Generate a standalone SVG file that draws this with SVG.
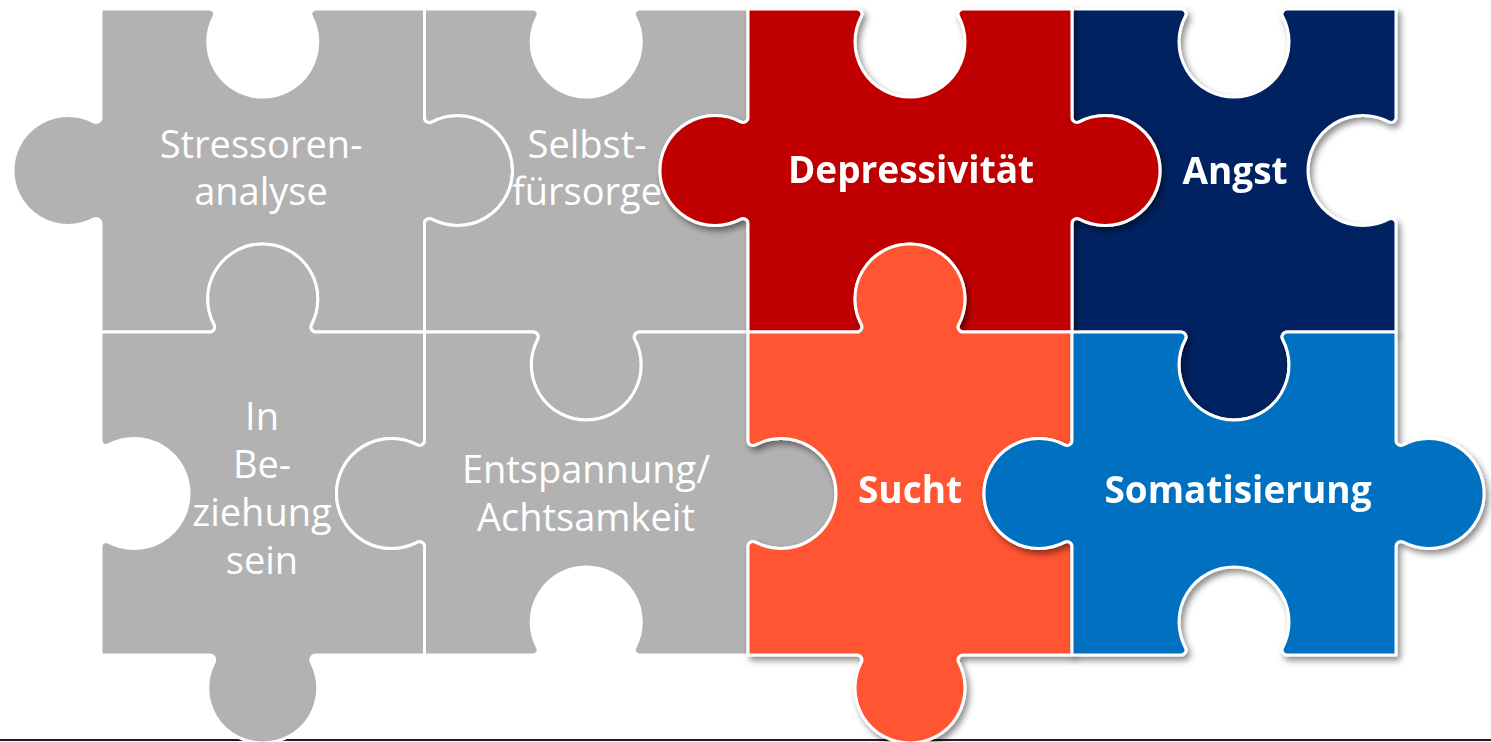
<svg xmlns="http://www.w3.org/2000/svg" width="1491" height="742" viewBox="0 0 1491 742">
  <defs>
    <filter id="drop" x="-10%" y="-10%" width="125%" height="125%">
      <feDropShadow dx="3" dy="4" stdDeviation="3" flood-color="#000" flood-opacity="0.45"/>
    </filter>
    <style>
      .piece { stroke: #fff; stroke-width: 3; stroke-linejoin: round; }
      .grey { fill: #b2b2b2; }
      .red { fill: #c00000; }
      .navy { fill: #002060; }
      .orange { fill: #ff5431; }
      .blue { fill: #0070c0; }
      .raised { filter: url(#drop); }
      .lbl { font-family: "Open Sans", "Liberation Sans", sans-serif; font-size: 38px; fill: #fff; text-anchor: middle; }
      .strong { font-weight: bold; font-size: 37px; }
    </style>
  </defs>

  <rect x="0" y="0" width="1491" height="742" fill="#fff"/>

  <!-- baseline rule under the puzzle -->
  <line x1="0" y1="740" x2="1491" y2="740" stroke="#1e1e1e" stroke-width="2"/>

  <!-- row 1, column 1 -->
  <g id="stressorenanalyse">
    <path class="piece grey" d="M101 9 L209.65 9 A5 5 0 0 1 214.15 16.3 A55 55 0 1 0 311.35 16.3 A5 5 0 0 1 315.85 9 L424.5 9 L424.5 117.4 A5 5 0 0 0 431.8 121.9 A55 55 0 1 1 431.8 219.1 A5 5 0 0 0 424.5 223.6 L424.5 332 L315.85 332 A5 5 0 0 1 311.35 324.7 A55 55 0 1 0 214.15 324.7 A5 5 0 0 1 209.65 332 L101 332 L101 223.6 A5 5 0 0 0 93.7 219.1 A55 55 0 1 1 93.7 121.9 A5 5 0 0 0 101 117.4 Z"/>
    <text class="lbl" x="261" y="158">Stressoren-</text>
    <text class="lbl" x="261" y="205">analyse</text>
  </g>

  <!-- row 1, column 2 -->
  <g id="selbstfuersorge">
    <path class="piece grey" d="M424.5 9 L533.15 9 A5 5 0 0 1 537.65 16.3 A55 55 0 1 0 634.85 16.3 A5 5 0 0 1 639.35 9 L748 9 L748 117.4 A5 5 0 0 1 740.7 121.9 A55 55 0 1 0 740.7 219.1 A5 5 0 0 1 748 223.6 L748 332 L639.35 332 A5 5 0 0 0 634.85 339.3 A55 55 0 1 1 537.65 339.3 A5 5 0 0 0 533.15 332 L424.5 332 L424.5 223.6 A5 5 0 0 1 431.8 219.1 A55 55 0 1 0 431.8 121.9 A5 5 0 0 1 424.5 117.4 Z"/>
    <text class="lbl" x="587" y="158">Selbst-</text>
    <text class="lbl" x="587" y="205">fürsorge</text>
  </g>

  <!-- row 2, column 1 -->
  <g id="in-beziehung-sein">
    <path class="piece grey" d="M101 332 L209.65 332 A5 5 0 0 0 214.15 324.7 A55 55 0 1 1 311.35 324.7 A5 5 0 0 0 315.85 332 L424.5 332 L424.5 440.4 A5 5 0 0 1 417.2 444.9 A55 55 0 1 0 417.2 542.1 A5 5 0 0 1 424.5 546.6 L424.5 655 L315.85 655 A5 5 0 0 0 311.35 662.3 A55 55 0 1 1 214.15 662.3 A5 5 0 0 0 209.65 655 L101 655 L101 546.6 A5 5 0 0 1 108.3 542.1 A55 55 0 1 0 108.3 444.9 A5 5 0 0 1 101 440.4 Z"/>
    <text class="lbl" x="262" y="430">In</text>
    <text class="lbl" x="262" y="478">Be-</text>
    <text class="lbl" x="262" y="526">ziehung</text>
    <text class="lbl" x="262" y="574">sein</text>
  </g>

  <!-- row 2, column 2 -->
  <g id="entspannung-achtsamkeit">
    <path class="piece grey" d="M424.5 332 L533.15 332 A5 5 0 0 1 537.65 339.3 A55 55 0 1 0 634.85 339.3 A5 5 0 0 1 639.35 332 L748 332 L748 440.4 A5 5 0 0 0 755.3 444.9 A55 55 0 1 1 755.3 542.1 A5 5 0 0 0 748 546.6 L748 655 L639.35 655 A5 5 0 0 1 634.85 647.7 A55 55 0 1 0 537.65 647.7 A5 5 0 0 1 533.15 655 L424.5 655 L424.5 546.6 A5 5 0 0 0 417.2 542.1 A55 55 0 1 1 417.2 444.9 A5 5 0 0 0 424.5 440.4 Z"/>
    <text class="lbl" x="586" y="483">Entspannung/</text>
    <text class="lbl" x="586" y="531">Achtsamkeit</text>
  </g>

  <!-- row 1, column 4 -->
  <g id="angst" class="raised">
    <path class="piece navy" d="M1072 9 L1180.9 9 A5 5 0 0 1 1185.4 16.3 A55 55 0 1 0 1282.6 16.3 A5 5 0 0 1 1287.1 9 L1396 9 L1396 117.4 A5 5 0 0 1 1388.7 121.9 A55 55 0 1 0 1388.7 219.1 A5 5 0 0 1 1396 223.6 L1396 332 L1287.1 332 A5 5 0 0 0 1282.6 339.3 A55 55 0 1 1 1185.4 339.3 A5 5 0 0 0 1180.9 332 L1072 332 L1072 223.6 A5 5 0 0 1 1079.3 219.1 A55 55 0 1 0 1079.3 121.9 A5 5 0 0 1 1072 117.4 Z"/>
    <text class="lbl strong" x="1235" y="184">Angst</text>
  </g>

  <!-- row 1, column 3 -->
  <g id="depressivitaet" class="raised">
    <path class="piece red" d="M748 9 L856.9 9 A5 5 0 0 1 861.4 16.3 A55 55 0 1 0 958.6 16.3 A5 5 0 0 1 963.1 9 L1072 9 L1072 117.4 A5 5 0 0 0 1079.3 121.9 A55 55 0 1 1 1079.3 219.1 A5 5 0 0 0 1072 223.6 L1072 332 L963.1 332 A5 5 0 0 1 958.6 324.7 A55 55 0 1 0 861.4 324.7 A5 5 0 0 1 856.9 332 L748 332 L748 223.6 A5 5 0 0 0 740.7 219.1 A55 55 0 1 1 740.7 121.9 A5 5 0 0 0 748 117.4 Z"/>
    <text class="lbl strong" x="911" y="183">Depressivität</text>
  </g>

  <!-- row 2, column 3 -->
  <g id="sucht" class="raised">
    <path class="piece orange" d="M748 332 L856.9 332 A5 5 0 0 0 861.4 324.7 A55 55 0 1 1 958.6 324.7 A5 5 0 0 0 963.1 332 L1072 332 L1072 440.4 A5 5 0 0 1 1064.7 444.9 A55 55 0 1 0 1064.7 542.1 A5 5 0 0 1 1072 546.6 L1072 655 L963.1 655 A5 5 0 0 0 958.6 662.3 A55 55 0 1 1 861.4 662.3 A5 5 0 0 0 856.9 655 L748 655 L748 546.6 A5 5 0 0 1 755.3 542.1 A55 55 0 1 0 755.3 444.9 A5 5 0 0 1 748 440.4 Z"/>
    <text class="lbl strong" x="910" y="503">Sucht</text>
  </g>

  <!-- row 2, column 4 -->
  <g id="somatisierung" class="raised">
    <path class="piece blue" d="M1072 332 L1180.9 332 A5 5 0 0 1 1185.4 339.3 A55 55 0 1 0 1282.6 339.3 A5 5 0 0 1 1287.1 332 L1396 332 L1396 440.4 A5 5 0 0 0 1403.3 444.9 A55 55 0 1 1 1403.3 542.1 A5 5 0 0 0 1396 546.6 L1396 655 L1287.1 655 A5 5 0 0 1 1282.6 647.7 A55 55 0 1 0 1185.4 647.7 A5 5 0 0 1 1180.9 655 L1072 655 L1072 546.6 A5 5 0 0 0 1064.7 542.1 A55 55 0 1 1 1064.7 444.9 A5 5 0 0 0 1072 440.4 Z"/>
    <text class="lbl strong" x="1238" y="503">Somatisierung</text>
  </g>
</svg>
